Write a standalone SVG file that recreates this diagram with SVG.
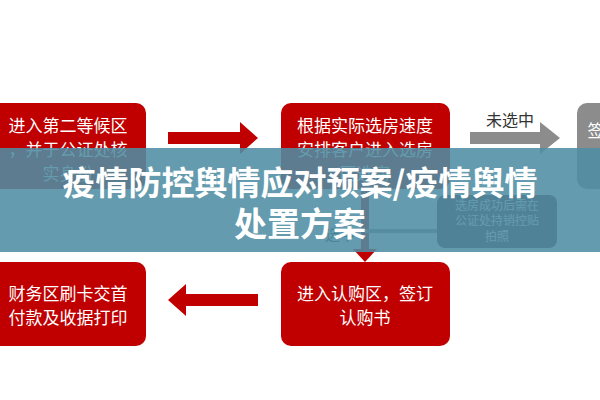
<svg xmlns="http://www.w3.org/2000/svg" width="600" height="400" viewBox="0 0 600 400">
<style>
.box{fill:#c00000}
.t{font-family:"Noto Sans CJK SC",sans-serif;font-size:17px;fill:#fff;text-anchor:middle}
.s{font-family:"Noto Sans CJK SC",sans-serif;font-size:12px;fill:#fff;text-anchor:middle}
.ttl{font-family:"Noto Sans CJK SC",sans-serif;font-size:33px;font-weight:bold;fill:#fff;text-anchor:middle}
</style>
<rect width="600" height="400" fill="#fff"/>
<g id="connectors">
<polygon points="168,132 240,132 240,122 258,138 240,154 240,144 168,144" fill="#c00000"/>
<polygon points="470,132 540,132 540,122 560,138 540,154 540,144 470,144" fill="#8c8c8c"/>
<text x="510" y="126" font-family="Noto Sans CJK SC,sans-serif" font-size="16" fill="#333" text-anchor="middle">未选中</text>
<rect x="361" y="187" width="8" height="62" fill="#c00000"/>
<polygon points="353,249 377,249 365,262" fill="#c00000"/>
<rect x="365" y="229" width="72" height="4" fill="#888"/>
<text x="340" y="240" font-family="Noto Sans CJK SC,sans-serif" font-size="15" fill="#333" text-anchor="middle">选中</text>
<polygon points="258,294 186,294 186,284 168,300 186,316 186,306 258,306" fill="#c00000"/>
</g>
<g id="n1"><rect class="box" x="-10" y="103" width="156" height="86" rx="10"/>
<text class="t" x="68" y="132">进入第二等候区</text><text class="t" x="68" y="156">，并于公证处核</text><text class="t" x="68" y="180">实身份</text></g>
<g id="n2"><rect class="box" x="281" y="103" width="169" height="86" rx="10"/>
<text class="t" x="365" y="132">根据实际选房速度</text><text class="t" x="365" y="156">安排客户进入选房</text><text class="t" x="365" y="180">区选房</text></g>
<g id="n3"><rect x="577" y="103" width="40" height="86" rx="10" fill="#8c8c8c"/>
<text class="t" x="596" y="137">签</text></g>
<g id="n4"><rect x="437" y="195" width="120" height="53" rx="8" fill="#5a3040"/>
<text class="s" x="497" y="210">选房成功后需在</text><text class="s" x="497" y="225">公证处持销控贴</text><text class="s" x="497" y="241">拍照</text></g>
<g id="n5"><rect class="box" x="-10" y="262" width="156" height="84" rx="10"/>
<text class="t" x="68" y="300">财务区刷卡交首</text><text class="t" x="68" y="324">付款及收据打印</text></g>
<g id="n6"><rect class="box" x="281" y="262" width="169" height="84" rx="10"/>
<text class="t" x="365" y="300">进入认购区，签订</text><text class="t" x="365" y="324">认购书</text></g>
<rect x="0" y="148" width="600" height="104" fill="#4f8da3" opacity="0.88"/>
<text class="ttl" x="300" y="195">疫情防控舆情应对预案/疫情舆情</text>
<text class="ttl" x="300" y="236">处置方案</text>
</svg>
